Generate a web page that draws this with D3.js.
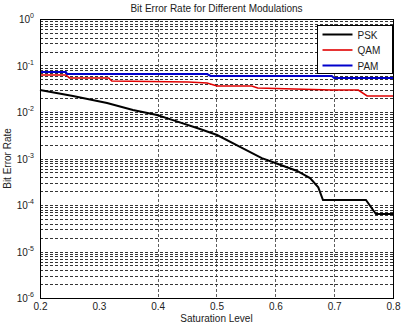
<!DOCTYPE html>
<html>
<head>
<meta charset="utf-8">
<script src="https://cdn.jsdelivr.net/npm/d3@7"></script>
<style>
  body { margin: 0; background: #fff; }
  text { font-family: "Liberation Sans", Arial, sans-serif; fill: #222; }
</style>
</head>
<body>
<svg id="chart" width="403" height="326"></svg>
<script>
// values
const xTicks = [0.2, 0.3, 0.4, 0.5, 0.6, 0.7, 0.8];
const xGrid = [0.4, 0.5, 0.6, 0.7];
const yExps = [0, -1, -2, -3, -4, -5, -6];

const psk = [[0.2, 0.0297], [0.256, 0.022], [0.314, 0.0156], [0.358, 0.011], [0.399, 0.0086],
  [0.426, 0.0067], [0.472, 0.0043], [0.501, 0.0032], [0.54, 0.00177], [0.577, 0.00102],
  [0.6, 0.0008], [0.637, 0.00054], [0.659, 0.00038], [0.673, 0.00024], [0.681, 0.000128],
  [0.754, 0.000128], [0.771, 0.000064], [0.8, 0.000064]];
const qam = [[0.2, 0.0625], [0.244, 0.0625], [0.25, 0.054], [0.317, 0.054], [0.322, 0.0464],
  [0.452, 0.0442], [0.484, 0.042], [0.501, 0.0362], [0.56, 0.0362], [0.57, 0.0328],
  [0.696, 0.0297], [0.741, 0.0297], [0.756, 0.0221], [0.8, 0.0221]];
const pam = [[0.2, 0.0725], [0.244, 0.0725], [0.246, 0.0656], [0.484, 0.0656], [0.49, 0.0595],
  [0.696, 0.0595], [0.70, 0.054], [0.8, 0.054]];

const series = [
  { name: "PSK", data: psk, color: "#000", width: 2 },
  { name: "QAM", data: qam, color: "#e00000", width: 1.6 },
  { name: "PAM", data: pam, color: "#0000cc", width: 2 }
];

const svg = d3.select("#chart");
const mLeft = 40, mRight = 393, mTop = 19, mBottom = 298;

const x = d3.scaleLinear().domain([0.2, 0.8]).range([mLeft, mRight]);
const y = d3.scaleLog().domain([1e-6, 1]).range([mBottom, mTop]);
const crisp = v => Math.round(v) + 0.5;

// horizontal log grid (majors + minors)
const yGrid = [];
for (let e = -6; e < 0; e++) {
  for (let m = 1; m < 10; m++) yGrid.push(m * Math.pow(10, e));
}
svg.append("g").selectAll("line")
  .data(yGrid.filter(v => v > 1e-6))
  .join("line")
  .attr("x1", mLeft).attr("x2", mRight)
  .attr("y1", d => crisp(y(d))).attr("y2", d => crisp(y(d)))
  .attr("stroke", "#000")
  .attr("stroke-width", 0.8)
  .attr("stroke-dasharray", "3,2");

svg.append("g").selectAll("line")
  .data(xGrid)
  .join("line")
  .attr("x1", d => crisp(x(d))).attr("x2", d => crisp(x(d)))
  .attr("y1", mTop).attr("y2", mBottom)
  .attr("stroke", "#333")
  .attr("stroke-width", 0.8)
  .attr("stroke-dasharray", "3,2");

// lines
const line = d3.line().x(d => x(d[0])).y(d => y(d[1]));
svg.append("g").selectAll("path")
  .data(series)
  .join("path")
  .attr("d", d => line(d.data))
  .attr("fill", "none")
  .attr("stroke", d => d.color)
  .attr("stroke-width", d => d.width);

// frame
svg.append("rect")
  .attr("x", mLeft + 0.5).attr("y", mTop + 0.5)
  .attr("width", mRight - mLeft).attr("height", mBottom - mTop)
  .attr("fill", "none").attr("stroke", "#000").attr("stroke-width", 1);

// x axis
const xAxis = svg.append("g")
  .attr("transform", `translate(0,${mBottom})`)
  .call(d3.axisBottom(x).tickValues(xTicks).tickSize(0).tickPadding(5).tickFormat(d3.format(".1f")));
xAxis.select(".domain").remove();
xAxis.selectAll("text").attr("font-size", 10).attr("fill", "#222")
  .style("font-family", "Liberation Sans, Arial, sans-serif");

// y axis labels 10^n
const yl = svg.append("g").selectAll("text")
  .data(yExps)
  .join("text")
  .attr("x", mLeft - 6)
  .attr("y", d => y(Math.pow(10, d)) + 4)
  .attr("text-anchor", "end")
  .attr("font-size", 10);
yl.append("tspan").text("10");
yl.append("tspan").attr("dy", -5).attr("font-size", 7).text(d => d);

// titles
svg.append("text")
  .attr("x", (mLeft + mRight) / 2).attr("y", 12)
  .attr("text-anchor", "middle").attr("font-size", 10)
  .text("Bit Error Rate for Different Modulations");
svg.append("text")
  .attr("x", (mLeft + mRight) / 2).attr("y", 322)
  .attr("text-anchor", "middle").attr("font-size", 10)
  .text("Saturation Level");
svg.append("text")
  .attr("transform", `translate(11,${(mTop + mBottom) / 2}) rotate(-90)`)
  .attr("text-anchor", "middle").attr("font-size", 10)
  .text("Bit Error Rate");

// legend
const legend = svg.append("g").attr("transform", "translate(317.5,25.5)");
legend.append("rect")
  .attr("width", 75).attr("height", 48)
  .attr("fill", "#fff").attr("stroke", "#000").attr("stroke-width", 1);
const items = legend.selectAll(".legend-item")
  .data(series)
  .join("g")
  .attr("class", "legend-item")
  .attr("transform", (d, i) => `translate(0,${9 + i * 15.5})`);
items.append("line")
  .attr("x1", 5).attr("x2", 35)
  .attr("stroke", d => d.color)
  .attr("stroke-width", d => d.width);
items.append("text")
  .attr("x", 40).attr("y", 4)
  .attr("font-size", 10)
  .text(d => d.name);
</script>
</body>
</html>
